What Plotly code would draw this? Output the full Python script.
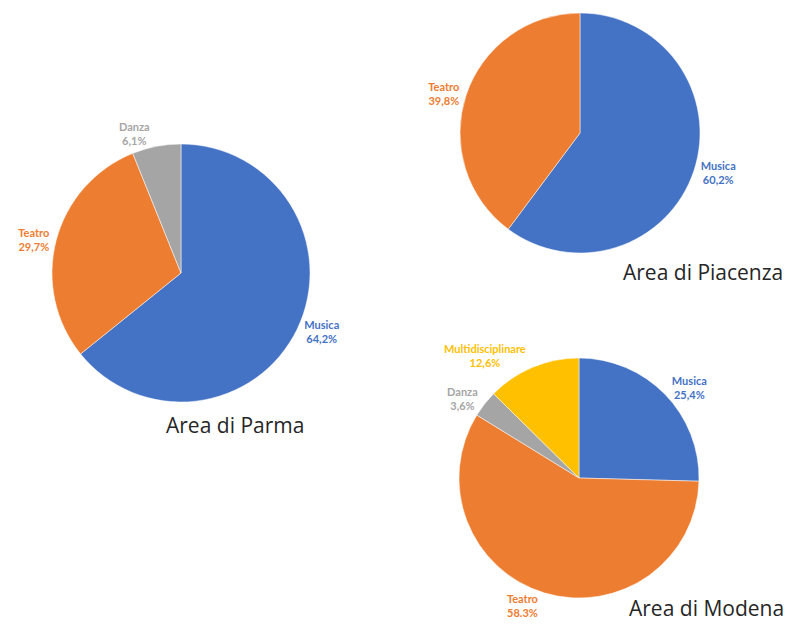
import plotly.graph_objects as go

W, H = 791, 625

# Data
parma_labels = ["Musica", "Teatro", "Danza"]
parma_values = [64.2, 29.7, 6.1]
parma_text = ["64,2%", "29,7%", "6,1%"]

piacenza_labels = ["Musica", "Teatro"]
piacenza_values = [60.2, 39.8]
piacenza_text = ["60,2%", "39,8%"]

modena_labels = ["Musica", "Teatro", "Danza", "Multidisciplinare"]
modena_values = [25.4, 58.3, 3.6, 12.6]
modena_text = ["25,4%", "58.3%", "3,6%", "12,6%"]

titles = ["Area di Parma", "Area di Piacenza", "Area di Modena"]

COLORS = {"Musica": "#4472C4", "Teatro": "#ED7D31", "Danza": "#A5A5A5",
          "Multidisciplinare": "#FFC000"}


def dom(left, top, right, bottom):
    return dict(x=[left / W, right / W], y=[1 - bottom / H, 1 - top / H])


def make_pie(labels, values, text, domain):
    cols = [COLORS[l] for l in labels]
    return go.Pie(
        labels=labels, values=values, text=text,
        sort=False, direction="clockwise", rotation=0,
        marker=dict(colors=cols, line=dict(color="white", width=0.5)),
        texttemplate="<b>%{label}</b><br><b>%{text}</b>",
        textposition="outside",
        outsidetextfont=dict(color=cols, size=11, family="Lato"),
        domain=domain, showlegend=False, hoverinfo="label+text",
    )


fig = go.Figure()
fig.add_trace(make_pie(parma_labels, parma_values, parma_text, dom(52, 144, 310, 402)))
fig.add_trace(make_pie(piacenza_labels, piacenza_values, piacenza_text, dom(460, 13, 700, 253)))
fig.add_trace(make_pie(modena_labels, modena_values, modena_text, dom(459, 358, 699, 598)))

title_pos = [(235, 425), (703, 272), (706, 608)]
for t, (x, y) in zip(titles, title_pos):
    fig.add_annotation(text=t, x=x / W, y=1 - y / H, xref="paper", yref="paper",
                       showarrow=False, xanchor="center", yanchor="middle",
                       font=dict(family="Open Sans", size=21, color="#262626"))

fig.update_layout(width=W, height=H, margin=dict(l=0, r=0, t=0, b=0),
                  paper_bgcolor="white", plot_bgcolor="white")

fig.write_html("out.html", config={"displayModeBar": False},
               post_script="document.body.style.margin='0';")
